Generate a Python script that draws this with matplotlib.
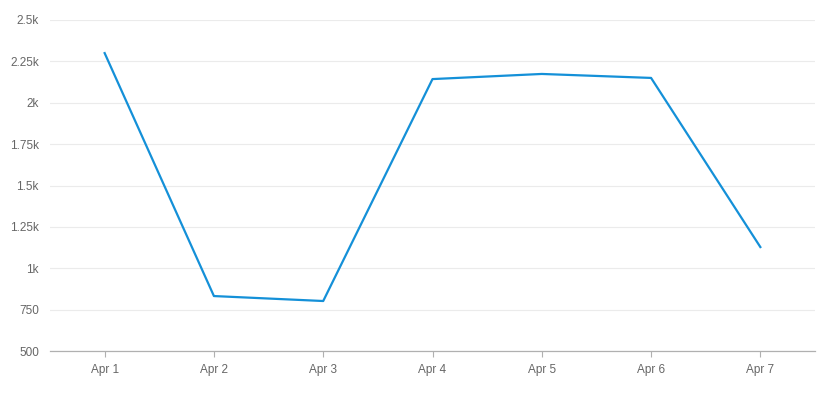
import matplotlib.pyplot as plt
from matplotlib.ticker import FuncFormatter

plt.rcParams['font.family'] = ['Liberation Sans', 'DejaVu Sans']

days = ["Apr 1", "Apr 2", "Apr 3", "Apr 4", "Apr 5", "Apr 6", "Apr 7"]
values = [2300, 832, 802, 2143, 2174, 2150, 1128]
y_ticks = [500, 750, 1000, 1250, 1500, 1750, 2000, 2250, 2500]


def fmt_k(v, pos):
    if v < 1000:
        return f"{v:g}"
    return f"{v / 1000:g}k"


fig = plt.figure(figsize=(8.17, 3.95), dpi=100)
ax = fig.add_axes([50 / 817, 44 / 395, 765 / 817, 331 / 395])

x = list(range(len(days)))
ax.plot(x, values, color="#1490d8", linewidth=1.6)

ax.set_xlim(-0.5, len(days) - 0.5)
ax.set_ylim(500, 2500)
ax.set_xticks(x)
ax.set_xticklabels(days)
ax.set_yticks(y_ticks)
ax.yaxis.set_major_formatter(FuncFormatter(fmt_k))

ax.grid(axis="y", color="#ebebeb", linewidth=0.8)
ax.set_axisbelow(True)
for side in ["top", "right", "left"]:
    ax.spines[side].set_visible(False)
ax.spines["bottom"].set_color("#b0b0b0")
ax.spines["bottom"].set_linewidth(0.9)

ax.tick_params(axis="x", length=4, color="#b0b0b0", labelcolor="#666666",
               labelsize=8.5, pad=5)
ax.tick_params(axis="y", length=0, labelcolor="#666666", labelsize=8.5, pad=8)

fig.savefig("out.png", dpi=100)
